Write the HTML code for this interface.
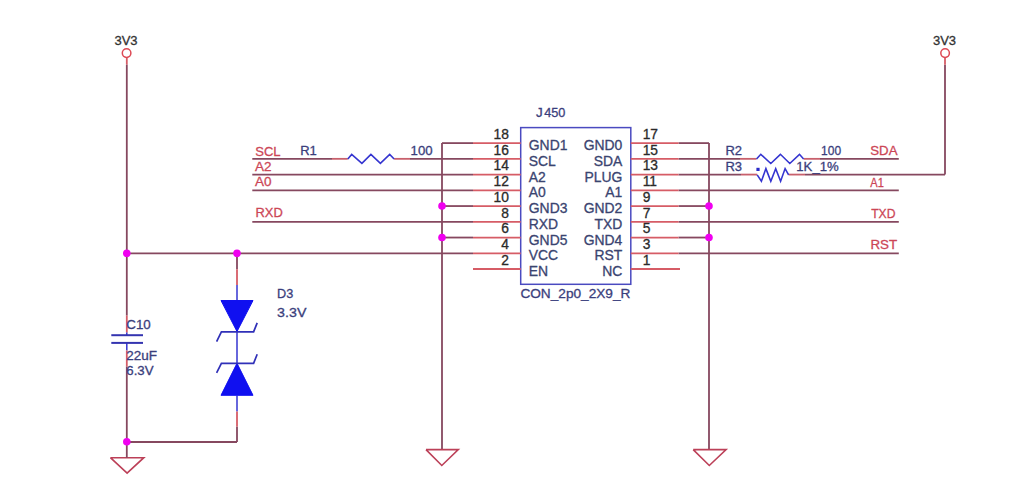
<!DOCTYPE html>
<html><head><meta charset="utf-8"><style>
html,body{margin:0;padding:0;background:#fff;}
svg{display:block;font-family:"Liberation Sans",sans-serif;}
</style></head><body>
<svg width="1026" height="502" viewBox="0 0 1026 502">
<rect width="1026" height="502" fill="#fff"/>
<rect x="520.7" y="127.6" width="110.09999999999991" height="156.70000000000002" fill="none" stroke="#4a4ac0" stroke-width="1.5"/>
<line x1="442" y1="143.1" x2="473" y2="143.1" stroke="#86485f" stroke-width="1.8"/>
<line x1="442" y1="143.1" x2="442" y2="449.6" stroke="#86485f" stroke-width="1.8"/>
<line x1="442" y1="206.06" x2="473" y2="206.06" stroke="#86485f" stroke-width="1.8"/>
<line x1="442" y1="237.54" x2="473" y2="237.54" stroke="#86485f" stroke-width="1.8"/>
<line x1="252.3" y1="174.58" x2="473" y2="174.58" stroke="#86485f" stroke-width="1.8"/>
<line x1="252.3" y1="190.32" x2="473" y2="190.32" stroke="#86485f" stroke-width="1.8"/>
<line x1="252.3" y1="221.8" x2="473" y2="221.8" stroke="#86485f" stroke-width="1.8"/>
<line x1="252.3" y1="158.84" x2="332" y2="158.84" stroke="#86485f" stroke-width="1.8"/>
<line x1="332" y1="158.84" x2="347.8" y2="158.84" stroke="#c8606c" stroke-width="1.8"/>
<line x1="394.1" y1="158.84" x2="410" y2="158.84" stroke="#c8606c" stroke-width="1.8"/>
<line x1="410" y1="158.84" x2="473" y2="158.84" stroke="#86485f" stroke-width="1.8"/>
<line x1="126.8" y1="253.28" x2="473" y2="253.28" stroke="#86485f" stroke-width="1.8"/>
<line x1="678.5" y1="143.1" x2="709" y2="143.1" stroke="#86485f" stroke-width="1.8"/>
<line x1="709" y1="143.1" x2="709" y2="449.6" stroke="#86485f" stroke-width="1.8"/>
<line x1="678.5" y1="206.06" x2="709" y2="206.06" stroke="#86485f" stroke-width="1.8"/>
<line x1="678.5" y1="237.54" x2="709" y2="237.54" stroke="#86485f" stroke-width="1.8"/>
<line x1="678.5" y1="190.32" x2="898.8" y2="190.32" stroke="#86485f" stroke-width="1.8"/>
<line x1="678.5" y1="221.8" x2="898.8" y2="221.8" stroke="#86485f" stroke-width="1.8"/>
<line x1="678.5" y1="253.28" x2="898.8" y2="253.28" stroke="#86485f" stroke-width="1.8"/>
<line x1="678.5" y1="158.84" x2="740" y2="158.84" stroke="#86485f" stroke-width="1.8"/>
<line x1="740" y1="158.84" x2="756.5" y2="158.84" stroke="#c8606c" stroke-width="1.8"/>
<line x1="803.6" y1="158.84" x2="820" y2="158.84" stroke="#c8606c" stroke-width="1.8"/>
<line x1="820" y1="158.84" x2="898.8" y2="158.84" stroke="#86485f" stroke-width="1.8"/>
<line x1="678.5" y1="174.58" x2="741" y2="174.58" stroke="#86485f" stroke-width="1.8"/>
<line x1="741" y1="174.58" x2="757.2" y2="174.58" stroke="#c8606c" stroke-width="1.8"/>
<line x1="788.6" y1="174.58" x2="805" y2="174.58" stroke="#c8606c" stroke-width="1.8"/>
<line x1="805" y1="174.58" x2="945" y2="174.58" stroke="#86485f" stroke-width="1.8"/>
<line x1="945" y1="174.58" x2="945" y2="64.7" stroke="#86485f" stroke-width="1.8"/>
<line x1="945" y1="64.7" x2="945" y2="57.5" stroke="#d65c66" stroke-width="1.8"/>
<line x1="126.8" y1="57.5" x2="126.8" y2="64.7" stroke="#d65c66" stroke-width="1.8"/>
<line x1="126.8" y1="64.7" x2="126.8" y2="315.6" stroke="#86485f" stroke-width="1.8"/>
<line x1="126.8" y1="315.6" x2="126.8" y2="332.6" stroke="#d65c66" stroke-width="1.8"/>
<line x1="126.8" y1="332.6" x2="126.8" y2="335.2" stroke="#3535d0" stroke-width="1.5"/>
<line x1="126.8" y1="342.9" x2="126.8" y2="350.5" stroke="#3535d0" stroke-width="1.5"/>
<line x1="126.8" y1="350.5" x2="126.8" y2="366.5" stroke="#d65c66" stroke-width="1.8"/>
<line x1="126.8" y1="366.5" x2="126.8" y2="442" stroke="#86485f" stroke-width="1.8"/>
<line x1="126.8" y1="442" x2="237" y2="442" stroke="#86485f" stroke-width="1.8"/>
<line x1="237" y1="442" x2="237" y2="426.5" stroke="#86485f" stroke-width="1.8"/>
<line x1="237" y1="253.28" x2="237" y2="269.3" stroke="#86485f" stroke-width="1.8"/>
<line x1="473" y1="143.1" x2="520.7" y2="143.1" stroke="#d65c66" stroke-width="1.8"/>
<line x1="630.8" y1="143.1" x2="678.5" y2="143.1" stroke="#d65c66" stroke-width="1.8"/>
<line x1="473" y1="158.84" x2="520.7" y2="158.84" stroke="#d65c66" stroke-width="1.8"/>
<line x1="630.8" y1="158.84" x2="678.5" y2="158.84" stroke="#d65c66" stroke-width="1.8"/>
<line x1="473" y1="174.58" x2="520.7" y2="174.58" stroke="#d65c66" stroke-width="1.8"/>
<line x1="630.8" y1="174.58" x2="678.5" y2="174.58" stroke="#d65c66" stroke-width="1.8"/>
<line x1="473" y1="190.32" x2="520.7" y2="190.32" stroke="#d65c66" stroke-width="1.8"/>
<line x1="630.8" y1="190.32" x2="678.5" y2="190.32" stroke="#d65c66" stroke-width="1.8"/>
<line x1="473" y1="206.06" x2="520.7" y2="206.06" stroke="#d65c66" stroke-width="1.8"/>
<line x1="630.8" y1="206.06" x2="678.5" y2="206.06" stroke="#d65c66" stroke-width="1.8"/>
<line x1="473" y1="221.8" x2="520.7" y2="221.8" stroke="#d65c66" stroke-width="1.8"/>
<line x1="630.8" y1="221.8" x2="678.5" y2="221.8" stroke="#d65c66" stroke-width="1.8"/>
<line x1="473" y1="237.54" x2="520.7" y2="237.54" stroke="#d65c66" stroke-width="1.8"/>
<line x1="630.8" y1="237.54" x2="678.5" y2="237.54" stroke="#d65c66" stroke-width="1.8"/>
<line x1="473" y1="253.28" x2="520.7" y2="253.28" stroke="#d65c66" stroke-width="1.8"/>
<line x1="630.8" y1="253.28" x2="678.5" y2="253.28" stroke="#d65c66" stroke-width="1.8"/>
<line x1="473" y1="269.02" x2="520.7" y2="269.02" stroke="#d65c66" stroke-width="1.8"/>
<line x1="630.8" y1="269.02" x2="680" y2="269.02" stroke="#d65c66" stroke-width="1.8"/>
<line x1="237" y1="269.3" x2="237" y2="285" stroke="#d65c66" stroke-width="1.8"/>
<line x1="237" y1="285" x2="237" y2="300.5" stroke="#3535d0" stroke-width="1.5"/>
<line x1="237" y1="395.4" x2="237" y2="411.5" stroke="#3535d0" stroke-width="1.5"/>
<line x1="237" y1="411.5" x2="237" y2="426.5" stroke="#d65c66" stroke-width="1.8"/>
<line x1="237" y1="331.5" x2="237" y2="363.5" stroke="#3535d0" stroke-width="1.5"/>
<polyline points="347.8,159 351.7,154.4 361.9,163.3 370.9,154.4 380.4,163.3 389.7,154.4 394.1,159" stroke="#3535d0" stroke-width="1.6" fill="none" stroke-linejoin="miter"/>
<polyline points="756.5,159 760.8,154.3 770.8,163.5 780.4,154.3 789.8,163.5 799.5,154.3 803.6,159" stroke="#3535d0" stroke-width="1.6" fill="none" stroke-linejoin="miter"/>
<polyline points="757.2,174.9 761.4,181.2 765.9,168.6 770.8,181.2 775.7,168.6 780.6,181.2 785.1,168.6 788.6,174.9" stroke="#3535d0" stroke-width="1.6" fill="none" stroke-linejoin="miter"/>
<rect x="756.4" y="167.8" width="3.2" height="3.2" fill="#2a2ac8"/>
<line x1="111.3" y1="335.2" x2="143" y2="335.2" stroke="#3434b0" stroke-width="2"/>
<line x1="111.3" y1="342.9" x2="143" y2="342.9" stroke="#3434b0" stroke-width="2"/>
<polygon points="221,300.5 253,300.5 237,331.5" stroke="#1010f0" stroke-width="1" fill="#1010f0"/>
<polyline points="216.6,341.6 221.4,331.8 253.6,331.8 257.2,322.9" stroke="#3030b8" stroke-width="1.7" fill="none" stroke-linejoin="miter"/>
<polygon points="237,363.3 253,395.3 221,395.3" stroke="#1010f0" stroke-width="1" fill="#1010f0"/>
<polyline points="216.6,372.9 221.4,363.3 253.6,363.3 257.2,354.3" stroke="#3030b8" stroke-width="1.7" fill="none" stroke-linejoin="miter"/>
<polyline points="110.4,457.7 143.8,457.7 127.1,473.2 110.4,457.7" stroke="#bc4058" stroke-width="1.6" fill="none" stroke-linejoin="miter"/>
<line x1="126.8" y1="442" x2="126.8" y2="457.7" stroke="#86485f" stroke-width="1.8"/>
<polyline points="426,449.6 458.3,449.6 441.8,465.5 426,449.6" stroke="#bc4058" stroke-width="1.6" fill="none" stroke-linejoin="miter"/>
<polyline points="693.2,449.6 726.1,449.6 709.3,465.5 693.2,449.6" stroke="#bc4058" stroke-width="1.6" fill="none" stroke-linejoin="miter"/>
<circle cx="126.6" cy="53.1" r="4.3" stroke="#dd4a55" stroke-width="1.5" fill="none"/>
<circle cx="945.1" cy="53.1" r="4.3" stroke="#dd4a55" stroke-width="1.5" fill="none"/>
<text x="126" y="45.1" fill="#333" stroke="#333" stroke-width="0.3" font-size="13" text-anchor="middle">3V3</text>
<text x="944.5" y="45.1" fill="#333" stroke="#333" stroke-width="0.3" font-size="13" text-anchor="middle">3V3</text>
<circle cx="442" cy="206.06" r="3.8" fill="#f000f0"/>
<circle cx="442" cy="237.54" r="3.8" fill="#f000f0"/>
<circle cx="709" cy="206.06" r="3.8" fill="#f000f0"/>
<circle cx="709" cy="237.54" r="3.8" fill="#f000f0"/>
<circle cx="126.8" cy="253.28" r="3.8" fill="#f000f0"/>
<circle cx="237" cy="253.28" r="3.8" fill="#f000f0"/>
<circle cx="126.8" cy="441.8" r="3.8" fill="#f000f0"/>
<text x="508.9" y="138.9" fill="#2a2a2a" stroke="#2a2a2a" stroke-width="0.3" font-size="13.8" text-anchor="end">18</text>
<text x="642.7" y="138.9" fill="#2a2a2a" stroke="#2a2a2a" stroke-width="0.3" font-size="13.8" text-anchor="start">17</text>
<text x="508.9" y="154.64000000000001" fill="#2a2a2a" stroke="#2a2a2a" stroke-width="0.3" font-size="13.8" text-anchor="end">16</text>
<text x="642.7" y="154.64000000000001" fill="#2a2a2a" stroke="#2a2a2a" stroke-width="0.3" font-size="13.8" text-anchor="start">15</text>
<text x="508.9" y="170.38000000000002" fill="#2a2a2a" stroke="#2a2a2a" stroke-width="0.3" font-size="13.8" text-anchor="end">14</text>
<text x="642.7" y="170.38000000000002" fill="#2a2a2a" stroke="#2a2a2a" stroke-width="0.3" font-size="13.8" text-anchor="start">13</text>
<text x="508.9" y="186.12" fill="#2a2a2a" stroke="#2a2a2a" stroke-width="0.3" font-size="13.8" text-anchor="end">12</text>
<text x="642.7" y="186.12" fill="#2a2a2a" stroke="#2a2a2a" stroke-width="0.3" font-size="13.8" text-anchor="start">11</text>
<text x="508.9" y="201.86" fill="#2a2a2a" stroke="#2a2a2a" stroke-width="0.3" font-size="13.8" text-anchor="end">10</text>
<text x="642.7" y="201.86" fill="#2a2a2a" stroke="#2a2a2a" stroke-width="0.3" font-size="13.8" text-anchor="start">9</text>
<text x="508.9" y="217.60000000000002" fill="#2a2a2a" stroke="#2a2a2a" stroke-width="0.3" font-size="13.8" text-anchor="end">8</text>
<text x="642.7" y="217.60000000000002" fill="#2a2a2a" stroke="#2a2a2a" stroke-width="0.3" font-size="13.8" text-anchor="start">7</text>
<text x="508.9" y="233.34" fill="#2a2a2a" stroke="#2a2a2a" stroke-width="0.3" font-size="13.8" text-anchor="end">6</text>
<text x="642.7" y="233.34" fill="#2a2a2a" stroke="#2a2a2a" stroke-width="0.3" font-size="13.8" text-anchor="start">5</text>
<text x="508.9" y="249.08" fill="#2a2a2a" stroke="#2a2a2a" stroke-width="0.3" font-size="13.8" text-anchor="end">4</text>
<text x="642.7" y="249.08" fill="#2a2a2a" stroke="#2a2a2a" stroke-width="0.3" font-size="13.8" text-anchor="start">3</text>
<text x="508.9" y="264.82" fill="#2a2a2a" stroke="#2a2a2a" stroke-width="0.3" font-size="13.8" text-anchor="end">2</text>
<text x="642.7" y="264.82" fill="#2a2a2a" stroke="#2a2a2a" stroke-width="0.3" font-size="13.8" text-anchor="start">1</text>
<text x="528.8" y="150.1" fill="#3a4470" stroke="#3a4470" stroke-width="0.3" font-size="13.9" text-anchor="start">GND1</text>
<text x="622.3" y="150.1" fill="#3a4470" stroke="#3a4470" stroke-width="0.3" font-size="13.9" text-anchor="end">GND0</text>
<text x="528.8" y="165.84" fill="#3a4470" stroke="#3a4470" stroke-width="0.3" font-size="13.9" text-anchor="start">SCL</text>
<text x="622.3" y="165.84" fill="#3a4470" stroke="#3a4470" stroke-width="0.3" font-size="13.9" text-anchor="end">SDA</text>
<text x="528.8" y="181.58" fill="#3a4470" stroke="#3a4470" stroke-width="0.3" font-size="13.9" text-anchor="start">A2</text>
<text x="622.3" y="181.58" fill="#3a4470" stroke="#3a4470" stroke-width="0.3" font-size="13.9" text-anchor="end">PLUG</text>
<text x="528.8" y="197.32" fill="#3a4470" stroke="#3a4470" stroke-width="0.3" font-size="13.9" text-anchor="start">A0</text>
<text x="622.3" y="197.32" fill="#3a4470" stroke="#3a4470" stroke-width="0.3" font-size="13.9" text-anchor="end">A1</text>
<text x="528.8" y="213.06" fill="#3a4470" stroke="#3a4470" stroke-width="0.3" font-size="13.9" text-anchor="start">GND3</text>
<text x="622.3" y="213.06" fill="#3a4470" stroke="#3a4470" stroke-width="0.3" font-size="13.9" text-anchor="end">GND2</text>
<text x="528.8" y="228.8" fill="#3a4470" stroke="#3a4470" stroke-width="0.3" font-size="13.9" text-anchor="start">RXD</text>
<text x="622.3" y="228.8" fill="#3a4470" stroke="#3a4470" stroke-width="0.3" font-size="13.9" text-anchor="end">TXD</text>
<text x="528.8" y="244.54" fill="#3a4470" stroke="#3a4470" stroke-width="0.3" font-size="13.9" text-anchor="start">GND5</text>
<text x="622.3" y="244.54" fill="#3a4470" stroke="#3a4470" stroke-width="0.3" font-size="13.9" text-anchor="end">GND4</text>
<text x="528.8" y="260.28" fill="#3a4470" stroke="#3a4470" stroke-width="0.3" font-size="13.9" text-anchor="start">VCC</text>
<text x="622.3" y="260.28" fill="#3a4470" stroke="#3a4470" stroke-width="0.3" font-size="13.9" text-anchor="end">RST</text>
<text x="528.8" y="276.02" fill="#3a4470" stroke="#3a4470" stroke-width="0.3" font-size="13.9" text-anchor="start">EN</text>
<text x="622.3" y="276.02" fill="#3a4470" stroke="#3a4470" stroke-width="0.3" font-size="13.9" text-anchor="end">NC</text>
<text x="536" y="117.2" fill="#3a3e7c" stroke="#3a3e7c" stroke-width="0.3" font-size="13.4" text-anchor="start">J</text>
<text x="544.2" y="117.2" fill="#3a3e7c" stroke="#3a3e7c" stroke-width="0.3" font-size="13.4" text-anchor="start" textLength="21.2" lengthAdjust="spacingAndGlyphs">450</text>
<text x="520.4" y="298.4" fill="#3a3e7c" stroke="#3a3e7c" stroke-width="0.3" font-size="13.5" text-anchor="start" textLength="110" lengthAdjust="spacingAndGlyphs">CON_2p0_2X9_R</text>
<text x="255.3" y="155.6" fill="#cc4656" stroke="#cc4656" stroke-width="0.3" font-size="13.7" text-anchor="start" textLength="25.3" lengthAdjust="spacingAndGlyphs">SCL</text>
<text x="255" y="171.1" fill="#cc4656" stroke="#cc4656" stroke-width="0.3" font-size="13.7" text-anchor="start" textLength="16.5" lengthAdjust="spacingAndGlyphs">A2</text>
<text x="255" y="186.1" fill="#cc4656" stroke="#cc4656" stroke-width="0.3" font-size="13.7" text-anchor="start" textLength="16.5" lengthAdjust="spacingAndGlyphs">A0</text>
<text x="255.5" y="217.4" fill="#cc4656" stroke="#cc4656" stroke-width="0.3" font-size="13.7" text-anchor="start" textLength="27.3" lengthAdjust="spacingAndGlyphs">RXD</text>
<text x="870.3" y="155.2" fill="#cc4656" stroke="#cc4656" stroke-width="0.3" font-size="13.7" text-anchor="start" textLength="27.2" lengthAdjust="spacingAndGlyphs">SDA</text>
<text x="870.3" y="186.5" fill="#cc4656" stroke="#cc4656" stroke-width="0.3" font-size="13.7" text-anchor="start" textLength="13.5" lengthAdjust="spacingAndGlyphs">A1</text>
<text x="871.2" y="217.9" fill="#cc4656" stroke="#cc4656" stroke-width="0.3" font-size="13.7" text-anchor="start" textLength="24.3" lengthAdjust="spacingAndGlyphs">TXD</text>
<text x="870.4" y="249.1" fill="#cc4656" stroke="#cc4656" stroke-width="0.3" font-size="13.7" text-anchor="start" textLength="26.7" lengthAdjust="spacingAndGlyphs">RST</text>
<text x="300.2" y="155.2" fill="#3a3e7c" stroke="#3a3e7c" stroke-width="0.3" font-size="13" text-anchor="start">R1</text>
<text x="410.6" y="155.2" fill="#3a3e7c" stroke="#3a3e7c" stroke-width="0.3" font-size="13" text-anchor="start" textLength="22" lengthAdjust="spacingAndGlyphs">100</text>
<text x="725.4" y="155.2" fill="#3a3e7c" stroke="#3a3e7c" stroke-width="0.3" font-size="13" text-anchor="start">R2</text>
<text x="821.1" y="155.2" fill="#3a3e7c" stroke="#3a3e7c" stroke-width="0.3" font-size="13" text-anchor="start" textLength="20" lengthAdjust="spacingAndGlyphs">100</text>
<text x="725.4" y="170.8" fill="#3a3e7c" stroke="#3a3e7c" stroke-width="0.3" font-size="13" text-anchor="start">R3</text>
<text x="796.3" y="170.8" fill="#3a3e7c" stroke="#3a3e7c" stroke-width="0.3" font-size="13" text-anchor="start" textLength="42.4" lengthAdjust="spacingAndGlyphs">1K_1%</text>
<text x="126.3" y="328.7" fill="#3a3e7c" stroke="#3a3e7c" stroke-width="0.3" font-size="13" text-anchor="start" textLength="24.5" lengthAdjust="spacingAndGlyphs">C10</text>
<text x="126.3" y="360.1" fill="#3a3e7c" stroke="#3a3e7c" stroke-width="0.3" font-size="13" text-anchor="start" textLength="30.8" lengthAdjust="spacingAndGlyphs">22uF</text>
<text x="126.3" y="375" fill="#3a3e7c" stroke="#3a3e7c" stroke-width="0.3" font-size="13" text-anchor="start" textLength="27.3" lengthAdjust="spacingAndGlyphs">6.3V</text>
<text x="277.1" y="297.5" fill="#3a3e7c" stroke="#3a3e7c" stroke-width="0.3" font-size="13" text-anchor="start" textLength="16.2" lengthAdjust="spacingAndGlyphs">D3</text>
<text x="277.1" y="316.6" fill="#3a3e7c" stroke="#3a3e7c" stroke-width="0.3" font-size="13" text-anchor="start" textLength="29.3" lengthAdjust="spacingAndGlyphs">3.3V</text>
</svg></body></html>
